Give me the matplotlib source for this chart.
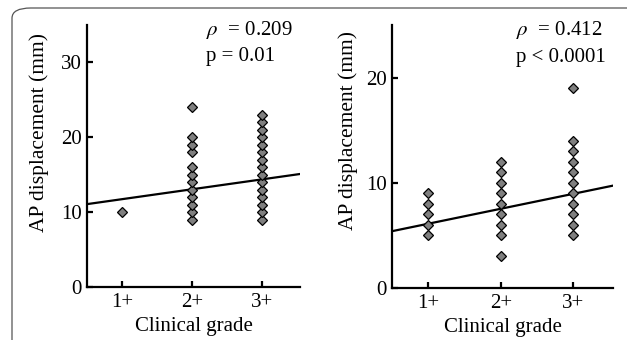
import numpy as np
import matplotlib.pyplot as plt
from matplotlib.patches import FancyBboxPatch

plt.rcParams['font.family'] = ['Liberation Serif', 'DejaVu Serif']
plt.rcParams['mathtext.fontset'] = 'stix'

grades = ['1+', '2+', '3+']

# left panel: AP displacement values per clinical grade
left_g1 = [10]
left_g2 = [9, 10, 11, 12, 13, 14, 15, 16, 18, 19, 20, 24]
left_g3 = [9, 10, 11, 12, 13, 14, 15, 16, 17, 18, 19, 20, 21, 22, 23]
left_fit = [10.41, 1.32]   # intercept, slope
left_rho = '0.209'
left_p = 'p = 0.01'

# right panel
right_g1 = [5, 6, 7, 8, 9]
right_g2 = [3, 5, 6, 7, 8, 9, 10, 11, 12]
right_g3 = [5, 6, 7, 8, 9, 10, 11, 12, 13, 14, 19]
right_fit = [4.69, 1.42]
right_rho = '0.412'
right_p = 'p < 0.0001'

FS = 15

fig = plt.figure(figsize=(6.27, 3.40), dpi=100)

# rounded frame around the figure
frame = FancyBboxPatch((12 / 627, -0.2), 1.2, 1 - 8 / 340 + 0.2,
                       boxstyle='round,pad=0,rounding_size=0.03',
                       transform=fig.transFigure, fill=False,
                       edgecolor='#555555', linewidth=0.9, clip_on=False)
fig.patches.append(frame)


def panel(rect, groups, fit, rho, ptxt, ylim, yticks, ylab_pos):
    ax = fig.add_axes(rect)
    for i, vals in enumerate(groups):
        ax.plot([i + 1] * len(vals), vals, linestyle='none', marker='D',
                markersize=5.0, markerfacecolor='#7f7f7f',
                markeredgecolor='black', markeredgewidth=0.9, zorder=3)
    xl = np.array([0.5, 3.55])
    ax.plot(xl, fit[0] + fit[1] * xl, color='black', lw=1.6, zorder=2)
    ax.set_xlim(xl)
    ax.set_ylim(ylim)
    ax.set_xticks([1, 2, 3])
    ax.set_xticklabels(grades)
    ax.set_yticks(yticks)
    for s in ['top', 'right']:
        ax.spines[s].set_visible(False)
    for s in ['left', 'bottom']:
        ax.spines[s].set_linewidth(1.6)
    ax.tick_params(direction='in', length=4, width=1.6, labelsize=FS, pad=4)
    ax.set_xlabel('Clinical grade', fontsize=FS, labelpad=4)
    ax.set_ylabel('AP displacement (mm)', fontsize=15.5)
    ax.yaxis.set_label_coords(*ylab_pos)
    ax.text(0.56, 0.981, r'$\rho$  = ' + rho, transform=ax.transAxes,
            fontsize=FS, ha='left', va='center')
    ax.text(0.56, 0.878, ptxt, transform=ax.transAxes,
            fontsize=FS, ha='left', va='center')
    return ax


panel([87 / 627, 1 - 287 / 340, 213 / 627, 262 / 340],
      [left_g1, left_g2, left_g3], left_fit, left_rho, left_p,
      (0, 35), [0, 10, 20, 30], (-0.18, 0.588))
panel([392 / 627, 1 - 288 / 340, 221 / 627, 263 / 340],
      [right_g1, right_g2, right_g3], right_fit, right_rho, right_p,
      (0, 25), [0, 10, 20], (-0.152, 0.597))

fig.savefig('out.png', dpi=100)
